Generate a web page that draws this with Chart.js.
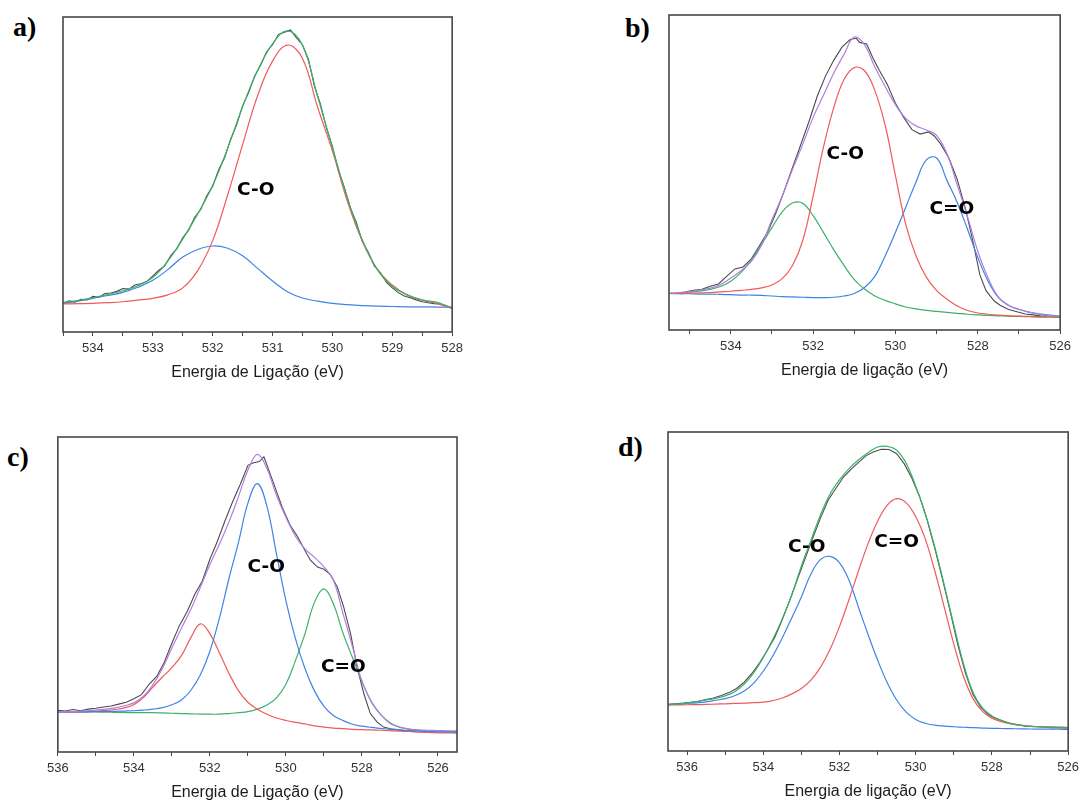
<!DOCTYPE html>
<html>
<head>
<meta charset="utf-8">
<script src="https://cdn.jsdelivr.net/npm/chart.js@4.4.1/dist/chart.umd.min.js"></script>
<style>
  html, body { margin: 0; padding: 0; background: #ffffff; }
  body { position: relative; width: 1082px; height: 801px; overflow: hidden; }
  canvas.panel { position: absolute; }
  .tag { position: absolute; font: bold 28px "Liberation Serif", "Times New Roman", serif; line-height: 28px; color: #000; }
</style>
</head>
<body>
<div class="tag" style="left:13px; top:13px;">a)</div>
<div class="tag" style="left:625px; top:13.5px;">b)</div>
<div class="tag" style="left:7px; top:443px;">c)</div>
<div class="tag" style="left:618px; top:433px;">d)</div>

<canvas id="panelA" class="panel" width="420" height="383" style="left:48px; top:9px;"></canvas>
<canvas id="panelB" class="panel" width="422" height="383" style="left:654px; top:7px;"></canvas>
<canvas id="panelC" class="panel" width="430" height="383" style="left:42px; top:429px;"></canvas>
<canvas id="panelD" class="panel" width="431" height="387" style="left:653px; top:424px;"></canvas>

<script>
// ---------- Panel a: O 1s, two components ----------
const aTickLabels = [534, 533, 532, 531, 530, 529, 528];
const aFitEnergy = [534.5, 534.25, 534, 533.75, 533.5, 533.25, 533, 532.75, 532.5, 532.25, 532, 531.75, 531.5, 531.25, 531, 530.75, 530.5, 530.25, 530, 529.75, 529.5, 529.25, 529, 528.75, 528.5, 528.25, 528];
const aCO = [8.9, 9.0, 9.1, 9.3, 9.6, 10.1, 10.7, 11.8, 14.0, 19.5, 29.0, 43.5, 59.5, 75.0, 86.0, 91.1, 86.8, 71.5, 57.5, 41.5, 28.8, 19.9, 14.9, 11.7, 10.1, 9.0, 7.5];
const aHigh = [9.1, 9.8, 10.7, 11.6, 12.6, 14.2, 16.4, 19.8, 23.8, 26.2, 27.3, 26.6, 24.2, 20.2, 16.2, 12.8, 10.8, 9.8, 9.1, 8.7, 8.4, 8.2, 8.1, 8.0, 8.0, 7.9, 7.9];
const aEnvelope = [9.4, 10.0, 10.9, 11.9, 13.1, 14.7, 17.3, 22.5, 29.5, 37.5, 46.5, 58.3, 71.5, 83.0, 91.5, 95.6, 91.0, 75.0, 58.5, 42.5, 29.2, 19.8, 14.5, 11.8, 10.2, 9.4, 7.6];
const aRawEnergy = [534.5, 534.4, 534.3, 534.2, 534.1, 534.0, 533.9, 533.8, 533.7, 533.6, 533.5, 533.4, 533.3, 533.2, 533.1, 533.0, 532.9, 532.8, 532.7, 532.6, 532.5, 532.4, 532.3, 532.2, 532.1, 532.0, 531.9, 531.8, 531.7, 531.6, 531.5, 531.4, 531.3, 531.2, 531.1, 531.0, 530.9, 530.8, 530.7, 530.6, 530.5, 530.4, 530.3, 530.2, 530.1, 530.0, 529.9, 529.8, 529.7, 529.6, 529.5, 529.4, 529.3, 529.2, 529.1, 529.0, 528.9, 528.8, 528.7, 528.6, 528.5, 528.4, 528.3, 528.2, 528.1, 528.0];
const aRaw = [9.0, 9.9, 9.5, 10.4, 10.2, 11.3, 11.0, 12.2, 12.4, 12.9, 13.8, 13.6, 14.9, 15.3, 16.0, 17.8, 19.6, 21.0, 24.3, 26.4, 29.9, 32.4, 36.4, 38.9, 43.2, 46.3, 51.5, 55.4, 61.2, 65.8, 71.8, 76.0, 81.2, 84.7, 88.9, 91.2, 94.5, 95.2, 95.9, 93.4, 91.2, 86.5, 78.0, 72.3, 64.8, 58.9, 51.2, 45.9, 39.4, 34.8, 28.7, 25.3, 21.0, 18.9, 15.8, 14.0, 12.5, 11.4, 10.9, 10.2, 9.6, 9.3, 9.0, 8.9, 8.3, 7.5];
const aNoteText = ['C-O'];
const aNoteEnergy = [531.28];
const aNoteLevel = [45.1];

// ---------- Panel b: O 1s, three components ----------
const bTickLabels = [534, 532, 530, 528, 526];
const bFitEnergy = [535.5, 535.25, 535, 534.75, 534.5, 534.25, 534, 533.75, 533.5, 533.25, 533, 532.75, 532.5, 532.25, 532, 531.75, 531.5, 531.25, 531, 530.75, 530.5, 530.25, 530, 529.75, 529.5, 529.25, 529, 528.75, 528.5, 528.25, 528, 527.75, 527.5, 527.25, 527, 526.75, 526.5, 526.25, 526];
const bCO = [11.6, 11.6, 11.7, 11.8, 11.9, 12.1, 12.3, 12.6, 12.9, 13.4, 14.3, 16.3, 20.5, 28.5, 42.5, 58.0, 70.5, 79.5, 83.3, 82.3, 76.0, 65.0, 49.0, 33.5, 23.5, 16.8, 12.5, 9.8, 7.6, 6.2, 5.4, 5.0, 4.7, 4.5, 4.4, 4.3, 4.25, 4.2, 4.2];
const bHigh = [11.6, 11.8, 12.0, 12.4, 12.9, 13.8, 15.5, 18.3, 22.3, 27.2, 32.5, 37.5, 40.3, 40.2, 36.3, 31.0, 25.5, 20.5, 16.0, 13.0, 10.8, 9.4, 8.3, 7.3, 6.7, 6.2, 5.9, 5.6, 5.3, 5.0, 4.8, 4.6, 4.5, 4.4, 4.3, 4.2, 4.1, 4.05, 4.0];
const bCdO = [11.6, 11.5, 11.5, 11.4, 11.4, 11.3, 11.2, 11.1, 11.1, 11.0, 10.8, 10.6, 10.5, 10.4, 10.3, 10.3, 10.4, 10.8, 11.6, 13.5, 17.0, 23.5, 31.0, 39.0, 47.0, 54.0, 54.6, 47.5, 40.5, 32.0, 23.0, 15.5, 10.3, 7.8, 6.5, 5.7, 5.1, 4.7, 4.4];
const bEnvelope = [11.6, 11.9, 12.2, 12.7, 13.3, 14.4, 16.5, 18.8, 21.8, 27.0, 35.0, 42.5, 51.0, 59.0, 67.5, 74.5, 81.5, 87.5, 93.0, 90.5, 83.5, 77.3, 71.5, 67.2, 64.8, 63.5, 61.8, 56.0, 46.0, 36.0, 25.0, 16.5, 10.5, 7.8, 6.6, 5.6, 5.0, 4.6, 4.4];
const bRawEnergy = [535.1, 534.9, 534.7, 534.5, 534.3, 534.1, 533.9, 533.7, 533.5, 533.3, 533.1, 532.9, 532.7, 532.5, 532.3, 532.1, 531.9, 531.7, 531.5, 531.3, 531.1, 530.95, 530.87, 530.7, 530.55, 530.4, 530.2, 530.0, 529.8, 529.6, 529.4, 529.2, 529.05, 528.9, 528.7, 528.5, 528.3, 528.1, 527.95, 527.8, 527.6, 527.45, 527.25, 527.05, 526.85, 526.65, 526.45, 526.25, 526.05];
const bRaw = [12.1, 12.6, 12.9, 13.9, 14.6, 17.0, 19.4, 20.0, 22.6, 26.8, 31.2, 37.2, 44.2, 51.6, 58.8, 66.2, 74.2, 80.6, 85.6, 89.8, 92.2, 92.6, 91.3, 90.8, 86.4, 82.6, 78.0, 72.0, 67.5, 63.6, 62.2, 62.9, 61.5, 59.0, 54.5, 47.8, 38.5, 27.0, 17.5, 12.5, 9.2, 7.8, 6.5, 5.8, 5.1, 4.8, 4.4, 4.6, 4.2];
const bNoteText = ['C-O', 'C=O'];
const bNoteEnergy = [531.22, 528.63];
const bNoteLevel = [55.8, 38.3];

// ---------- Panel c: O 1s, three components ----------
const cTickLabels = [536, 534, 532, 530, 528, 526];
const cFitEnergy = [536, 535.75, 535.5, 535.25, 535, 534.75, 534.5, 534.25, 534, 533.75, 533.5, 533.25, 533, 532.75, 532.5, 532.25, 532, 531.75, 531.5, 531.25, 531, 530.75, 530.5, 530.25, 530, 529.75, 529.5, 529.25, 529, 528.75, 528.5, 528.25, 528, 527.75, 527.5, 527.25, 527, 526.75, 526.5, 526.25, 526, 525.75, 525.5];
const cCO = [12.7, 12.7, 12.7, 12.75, 12.8, 12.85, 12.9, 13.0, 13.1, 13.3, 13.6, 14.1, 15.0, 16.5, 19.6, 24.5, 32.0, 42.5, 55.0, 66.5, 79.0, 85.2, 78.0, 63.0, 48.0, 36.0, 26.5, 19.4, 14.5, 11.6, 10.0, 8.8, 8.2, 7.8, 7.5, 7.2, 7.0, 6.8, 6.6, 6.5, 6.4, 6.35, 6.3];
const cHigh = [12.7, 12.7, 12.75, 12.8, 13.0, 13.2, 13.5, 14.0, 15.0, 17.3, 20.6, 23.8, 26.8, 30.6, 36.3, 40.7, 37.6, 31.5, 25.0, 19.5, 15.8, 13.6, 12.0, 10.8, 10.0, 9.4, 8.9, 8.3, 7.9, 7.6, 7.4, 7.2, 7.1, 7.0, 6.9, 6.8, 6.6, 6.5, 6.3, 6.2, 6.1, 6.05, 6.0];
const cCdO = [12.7, 12.7, 12.7, 12.7, 12.7, 12.65, 12.6, 12.55, 12.5, 12.5, 12.5, 12.4, 12.3, 12.2, 12.1, 12.05, 12.0, 12.0, 12.2, 12.5, 12.8, 13.6, 14.9, 17.2, 21.5, 29.0, 37.5, 47.5, 51.8, 47.0, 37.8, 30.0, 22.5, 15.8, 11.8, 9.2, 7.8, 7.2, 6.8, 6.6, 6.5, 6.4, 6.3];
const cEnvelope = [12.7, 12.8, 12.9, 13.1, 13.3, 13.6, 14.0, 14.7, 15.6, 17.6, 21.3, 26.5, 33.0, 39.3, 45.3, 52.3, 59.5, 66.0, 73.0, 81.0, 89.5, 94.5, 90.0, 81.5, 74.5, 68.5, 64.5, 61.8, 58.8, 54.5, 44.0, 33.5, 22.5, 16.0, 11.8, 9.0, 7.9, 7.3, 7.0, 6.9, 6.8, 6.75, 6.7];
const cRawEnergy = [536.0, 535.8, 535.6, 535.4, 535.2, 535.0, 534.8, 534.6, 534.4, 534.2, 534.0, 533.8, 533.6, 533.4, 533.2, 533.0, 532.8, 532.6, 532.4, 532.2, 532.0, 531.8, 531.6, 531.4, 531.2, 531.0, 530.85, 530.7, 530.58, 530.45, 530.3, 530.1, 529.9, 529.7, 529.5, 529.35, 529.17, 529.0, 528.83, 528.65, 528.48, 528.3, 528.13, 527.95, 527.78, 527.6, 527.43, 527.25, 527.08, 526.8, 526.5, 526.2, 525.9, 525.5];
const cRaw = [13.2, 13.0, 13.5, 13.1, 13.6, 13.9, 14.3, 14.6, 15.2, 15.8, 16.9, 18.2, 21.5, 24.0, 28.5, 34.5, 40.2, 44.5, 50.0, 54.3, 61.2, 67.0, 73.5, 79.5, 85.0, 91.0, 91.8, 92.2, 93.7, 89.5, 84.5, 77.8, 72.2, 68.5, 64.0, 60.8, 58.7, 58.0, 56.3, 52.4, 46.0, 37.6, 27.0, 18.5, 12.2, 9.5, 7.9, 7.4, 7.1, 6.6, 6.9, 6.4, 6.6, 6.3];
const cNoteText = ['C-O', 'C=O'];
const cNoteEnergy = [530.52, 528.49];
const cNoteLevel = [58.8, 26.8];

// ---------- Panel d: O 1s, two components ----------
const dTickLabels = [536, 534, 532, 530, 528, 526];
const dFitEnergy = [536.5, 536.25, 536, 535.75, 535.5, 535.25, 535, 534.75, 534.5, 534.25, 534, 533.75, 533.5, 533.25, 533, 532.75, 532.5, 532.25, 532, 531.75, 531.5, 531.25, 531, 530.75, 530.5, 530.25, 530, 529.75, 529.5, 529.25, 529, 528.75, 528.5, 528.25, 528, 527.75, 527.5, 527.25, 527, 526.75, 526.5, 526.25, 526];
const dCO = [14.6, 14.7, 14.9, 15.1, 15.4, 15.9, 16.4, 17.3, 18.8, 21.3, 25.0, 29.8, 35.5, 41.8, 48.3, 55.5, 60.0, 61.0, 59.0, 53.5, 45.0, 36.5, 28.5, 21.5, 16.0, 12.2, 9.9, 8.7, 8.1, 7.8, 7.6, 7.45, 7.3, 7.2, 7.1, 7.05, 7.0, 6.95, 6.9, 6.88, 6.85, 6.82, 6.8];
const dCdO = [14.4, 14.45, 14.5, 14.55, 14.6, 14.7, 14.8, 14.9, 15.0, 15.15, 15.3, 15.8, 16.6, 17.9, 19.6, 22.2, 26.2, 31.8, 39.0, 47.5, 56.5, 65.0, 72.0, 77.0, 79.1, 77.8, 73.5, 66.5, 56.5, 45.0, 33.5, 23.5, 16.5, 12.4, 10.3, 9.2, 8.5, 8.1, 7.8, 7.55, 7.3, 7.2, 7.1];
const dEnvelope = [14.5, 14.7, 15.0, 15.5, 16.0, 16.5, 17.3, 18.6, 21.0, 24.5, 29.3, 35.0, 41.5, 49.0, 58.0, 66.0, 74.0, 80.5, 85.0, 88.5, 91.3, 93.5, 95.3, 95.5, 94.3, 90.2, 83.0, 74.5, 64.0, 52.0, 39.5, 27.5, 18.5, 13.5, 11.0, 9.6, 8.6, 8.0, 7.7, 7.6, 7.5, 7.45, 7.4];
const dRawEnergy = [536.5, 536.3, 536.1, 535.9, 535.7, 535.5, 535.3, 535.1, 534.9, 534.7, 534.5, 534.3, 534.1, 533.9, 533.7, 533.5, 533.3, 533.1, 532.9, 532.7, 532.5, 532.3, 532.1, 531.9, 531.7, 531.5, 531.3, 531.1, 530.9, 530.7, 530.5, 530.3, 530.1, 529.9, 529.7, 529.5, 529.3, 529.1, 528.9, 528.7, 528.5, 528.3, 528.1, 527.9, 527.7, 527.5, 527.3, 527.1, 526.9, 526.7, 526.5, 526.3, 526.1];
const dRaw = [14.6, 14.8, 15.0, 15.3, 15.6, 16.1, 16.6, 17.4, 18.3, 19.6, 21.6, 24.3, 27.6, 31.4, 35.6, 41.2, 47.4, 54.0, 60.4, 66.8, 73.0, 78.6, 82.2, 85.8, 88.3, 90.5, 92.6, 93.8, 94.6, 94.5, 93.2, 90.0, 85.5, 79.8, 72.4, 63.5, 54.0, 44.0, 33.5, 24.6, 17.8, 13.8, 11.4, 10.2, 9.3, 8.6, 8.2, 7.8, 7.7, 7.6, 7.5, 7.4, 7.4];
const dNoteText = ['C-O', 'C=O'];
const dNoteEnergy = [532.86, 530.5];
const dNoteLevel = [63.9, 65.6];

// ---------- drawing helpers ----------
const RED = '#f05a5a', BLUE = '#3f84e5', GREEN = '#3cb16b', PURPLE = '#b27fe0', RAW = '#4b4b4b';
const SANS = '"Liberation Sans", Arial, Helvetica, sans-serif';

function pts(xs, ys) { return xs.map((x, i) => ({ x: x, y: ys[i] })); }

function fitLine(label, xs, ys, color) {
  return { label, data: pts(xs, ys), borderColor: color, borderWidth: 1.2, pointRadius: 0,
           fill: false, tension: 0.4 };
}
function rawLine(xs, ys) {
  return { label: 'Experimental', data: pts(xs, ys), borderColor: RAW, borderWidth: 1.1,
           pointRadius: 0, fill: false, tension: 0 };
}

// plot frame on all four sides
const frame = {
  id: 'frame',
  afterDatasetsDraw(chart) {
    const { ctx, chartArea: a } = chart;
    ctx.save();
    ctx.strokeStyle = '#474747';
    ctx.lineWidth = 1.6;
    ctx.strokeRect(a.left, a.top, a.right - a.left, a.bottom - a.top);
    ctx.restore();
  }
};

// bond labels placed in data coordinates
const peakLabels = {
  id: 'peakLabels',
  afterDatasetsDraw(chart, args, opts) {
    if (!opts || !opts.text) return;
    const { ctx, scales } = chart;
    ctx.save();
    ctx.font = 'bold 18.5px "DejaVu Sans", sans-serif';
    ctx.fillStyle = '#000';
    ctx.textAlign = 'center';
    ctx.textBaseline = 'middle';
    opts.text.forEach((t, i) => {
      ctx.fillText(t, scales.x.getPixelForValue(opts.energy[i]), scales.y.getPixelForValue(opts.level[i]));
    });
    ctx.restore();
  }
};

function makePanel(id, p) {
  new Chart(document.getElementById(id), {
    type: 'line',
    data: { datasets: p.datasets },
    plugins: [frame, peakLabels],
    options: {
      responsive: false,
      animation: false,
      devicePixelRatio: 1,
      events: [],
      layout: { padding: { left: 15, right: 15, top: 8, bottom: 0 } },
      plugins: {
        legend: { display: false },
        tooltip: { enabled: false },
        peakLabels: { text: p.noteText, energy: p.noteEnergy, level: p.noteLevel }
      },
      scales: {
        x: {
          type: 'linear',
          reverse: true,
          min: p.min,
          max: p.max,
          afterFit: (s) => { s.height = 60; },
          border: { display: false },
          grid: { drawOnChartArea: false, drawTicks: true, tickLength: 4, color: '#474747', lineWidth: 1 },
          ticks: {
            stepSize: p.step,
            includeBounds: false,
            maxTicksLimit: 100,
            autoSkip: false,
            maxRotation: 0,
            minRotation: 0,
            padding: 5,
            color: '#333',
            font: { family: SANS, size: 13 },
            callback: (v) => p.tickLabels.some(t => Math.abs(t - v) < 1e-6) ? String(Math.round(v)) : ''
          },
          title: {
            display: true,
            text: p.title,
            color: '#1c1c1c',
            font: { family: SANS, size: 16 },
            padding: { top: 0, bottom: 10 }
          }
        },
        y: { display: false, min: 0, max: 100 }
      }
    }
  });
}

makePanel('panelA', {
  min: 528, max: 534.5, step: 0.5, tickLabels: aTickLabels,
  title: 'Energia de Ligação (eV)',
  noteText: aNoteText, noteEnergy: aNoteEnergy, noteLevel: aNoteLevel,
  datasets: [
    fitLine('Envelope', aFitEnergy, aEnvelope, GREEN),
    fitLine('C-O', aFitEnergy, aCO, RED),
    fitLine('532 eV', aFitEnergy, aHigh, BLUE),
    rawLine(aRawEnergy, aRaw)
  ]
});

makePanel('panelB', {
  min: 526, max: 535.5, step: 1, tickLabels: bTickLabels,
  title: 'Energia de ligação (eV)',
  noteText: bNoteText, noteEnergy: bNoteEnergy, noteLevel: bNoteLevel,
  datasets: [
    fitLine('Envelope', bFitEnergy, bEnvelope, PURPLE),
    fitLine('C-O', bFitEnergy, bCO, RED),
    fitLine('532.4 eV', bFitEnergy, bHigh, GREEN),
    fitLine('C=O', bFitEnergy, bCdO, BLUE),
    rawLine(bRawEnergy, bRaw)
  ]
});

makePanel('panelC', {
  min: 525.5, max: 536, step: 1, tickLabels: cTickLabels,
  title: 'Energia de Ligação (eV)',
  noteText: cNoteText, noteEnergy: cNoteEnergy, noteLevel: cNoteLevel,
  datasets: [
    fitLine('Envelope', cFitEnergy, cEnvelope, PURPLE),
    fitLine('C-O', cFitEnergy, cCO, BLUE),
    fitLine('532.3 eV', cFitEnergy, cHigh, RED),
    fitLine('C=O', cFitEnergy, cCdO, GREEN),
    rawLine(cRawEnergy, cRaw)
  ]
});

makePanel('panelD', {
  min: 526, max: 536.5, step: 1, tickLabels: dTickLabels,
  title: 'Energia de ligação (eV)',
  noteText: dNoteText, noteEnergy: dNoteEnergy, noteLevel: dNoteLevel,
  datasets: [
    fitLine('Envelope', dFitEnergy, dEnvelope, GREEN),
    fitLine('C-O', dFitEnergy, dCO, BLUE),
    fitLine('C=O', dFitEnergy, dCdO, RED),
    rawLine(dRawEnergy, dRaw)
  ]
});
</script>
</body>
</html>
